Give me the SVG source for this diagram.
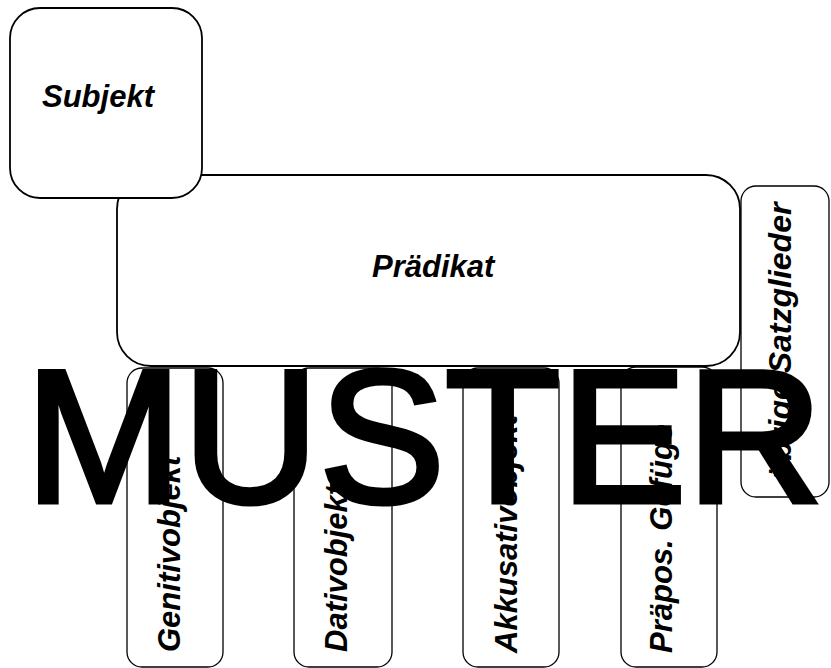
<svg xmlns="http://www.w3.org/2000/svg" width="831" height="668" viewBox="0 0 831 668">
<style>
.box{fill:#fff;stroke:#000;stroke-width:1.8}
.sbox{fill:#fff;stroke:#000;stroke-width:1.3}
.lbl{font-family:"Liberation Sans",Arial,sans-serif;font-weight:bold;font-style:italic;font-size:31px;fill:#000}
.wm{font-family:"Liberation Sans",Arial,sans-serif;font-size:189px;fill:#000;stroke:#000;stroke-width:5}
</style>
<rect width="831" height="668" fill="#fff"/>
<g id="praedikat">
<rect class="box" x="117" y="175" width="623" height="191" rx="34"/>
<text class="lbl" x="372" y="277">Prädikat</text>
</g>
<g id="subjekt">
<rect class="box" x="10" y="8" width="192" height="190" rx="30"/>
<text class="lbl" x="42" y="107">Subjekt</text>
</g>
<g id="uebrige">
<rect class="sbox" x="741" y="186" width="88" height="311" rx="15"/>
<text class="lbl" style="font-size:32px" transform="translate(791,480) rotate(-90)">übrige Satzglieder</text>
</g>
<g id="genitivobjekt">
<rect class="sbox" x="127" y="368" width="96" height="299" rx="15"/>
<text class="lbl" transform="translate(180,652) rotate(-90)">Genitivobjekt</text>
</g>
<g id="dativobjekt">
<rect class="sbox" x="294" y="368" width="98" height="299" rx="15"/>
<text class="lbl" transform="translate(347,652) rotate(-90)">Dativobjekt</text>
</g>
<g id="akkusativobjekt">
<rect class="sbox" x="463" y="368" width="96" height="299" rx="15"/>
<text class="lbl" transform="translate(517,653) rotate(-90)">Akkusativobjekt</text>
</g>
<g id="praepos">
<rect class="sbox" x="621" y="367" width="96" height="300" rx="15"/>
<text class="lbl" transform="translate(672,653) rotate(-90)">Präpos. Gefüge</text>
</g>
<g id="connectors"></g>
<g id="watermark">
<text class="wm" x="25" y="502">MUSTER</text>
</g>
</svg>
